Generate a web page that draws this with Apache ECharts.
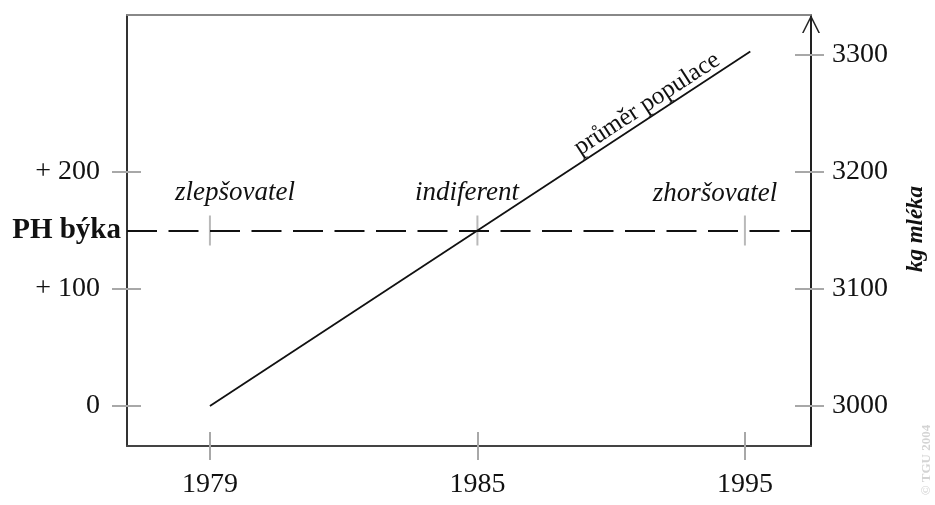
<!DOCTYPE html>
<html>
<head>
<meta charset="utf-8">
<script src="https://cdn.jsdelivr.net/npm/echarts@6/dist/echarts.min.js"></script>
<style>
	html, body { margin: 0; padding: 0; background: #fff; }
	#chart { width: 935px; height: 505px; }
</style>
</head>
<body>
<div id="chart"></div>
<script>
	// roky na ose x (pozice 0, 1, 2)
	const years = ['1979', '1985', '1995'];
	const yearPos = [0, 1, 2];
	// průměr populace, kg mléka
	const populationLine = [[0, 3000], [2.02, 3303]];
	// PH býka
	const bullLevel = 3150;
	const leftTicks = [0, 100, 200];
	const rightTicks = [3000, 3100, 3200, 3300];

	const serif = '"Liberation Serif", "Times New Roman", serif';
	const tickGray = '#a8a8a8';

	const chart = echarts.init(document.getElementById('chart'));

	const option = {
		animation: false,
		grid: { left: 127, right: 124, top: 15, bottom: 59 },
		xAxis: [
			{
				type: 'value', position: 'bottom', min: -0.31, max: 2.247,
				axisLine: { show: true, onZero: false, lineStyle: { color: '#444', width: 2 } },
				axisTick: { show: true, inside: true, length: 14, customValues: yearPos, lineStyle: { color: tickGray, width: 2 } },
				axisLabel: {
					customValues: yearPos, margin: 25,
					formatter: (v) => years[Math.round(v)],
					fontFamily: serif, fontSize: 28, color: '#111'
				},
				splitLine: { show: false }
			},
			{
				type: 'value', position: 'bottom', min: -0.31, max: 2.247,
				axisLine: { show: false, onZero: false },
				axisTick: { show: true, inside: false, length: 14, customValues: yearPos, lineStyle: { color: tickGray, width: 2 } },
				axisLabel: { show: false },
				splitLine: { show: false }
			},
			{
				type: 'value', position: 'top', min: -0.31, max: 2.247,
				axisLine: { show: true, onZero: false, lineStyle: { color: '#888', width: 2 } },
				axisTick: { show: false },
				axisLabel: { show: false },
				splitLine: { show: false }
			}
		],
		yAxis: [
			{
				type: 'value', position: 'left', min: -34.2, max: 334.2,
				axisLine: { show: true, onZero: false, lineStyle: { color: '#333', width: 2 } },
				axisTick: { show: true, inside: true, length: 14, customValues: leftTicks, lineStyle: { color: tickGray, width: 2 } },
				axisLabel: {
					customValues: leftTicks, margin: 27,
					formatter: (v) => v === 0 ? '0' : '+ ' + v,
					fontFamily: serif, fontSize: 28, color: '#111'
				},
				splitLine: { show: false }
			},
			{
				type: 'value', position: 'left', min: -34.2, max: 334.2,
				axisLine: { show: false, onZero: false },
				axisTick: { show: true, inside: false, length: 15, customValues: leftTicks, lineStyle: { color: tickGray, width: 2 } },
				axisLabel: { show: false },
				splitLine: { show: false }
			},
			{
				type: 'value', position: 'right', min: 2965.8, max: 3334.2,
				axisLine: {
					show: true,
					onZero: false,
					symbol: ['none', 'path://M0,10 L5,0 L10,10 L9.1,10 L5,1.8 L0.9,10 Z'],
					symbolSize: [25, 18],
					symbolOffset: [0, -9],
					lineStyle: { color: '#222', width: 2 }
				},
				axisTick: { show: true, inside: true, length: 16, customValues: rightTicks, lineStyle: { color: tickGray, width: 2 } },
				axisLabel: {
					customValues: rightTicks, margin: 21,
					formatter: (v) => String(v),
					fontFamily: serif, fontSize: 28, color: '#111'
				},
				splitLine: { show: false }
			},
			{
				type: 'value', position: 'right', min: 2965.8, max: 3334.2,
				axisLine: { show: false, onZero: false },
				axisTick: { show: true, inside: false, length: 13, customValues: rightTicks, lineStyle: { color: tickGray, width: 2 } },
				axisLabel: { show: false },
				splitLine: { show: false }
			}
		],
		series: [
			{
				name: 'průměr populace',
				type: 'line',
				xAxisIndex: 0,
				yAxisIndex: 2,
				symbol: 'none',
				lineStyle: { color: '#111', width: 1.8 },
				data: populationLine,
				markLine: {
					silent: true,
					symbol: 'none',
					lineStyle: { color: '#111', width: 1.8, type: [30, 11.5] },
					label: {
						show: true, position: 'start', distance: 6,
						formatter: 'PH býka',
						fontFamily: serif, fontSize: 29, fontWeight: 'bold', color: '#111'
					},
					data: [{ yAxis: bullLevel }]
				}
			},
			{
				// značky na čáře PH býka
				type: 'scatter',
				xAxisIndex: 0,
				yAxisIndex: 2,
				symbol: 'rect',
				symbolSize: [2, 30],
				itemStyle: { color: tickGray },
				silent: true,
				z: 1,
				data: yearPos.map((x) => [x, bullLevel])
			}
		],
		graphic: [
			{ type: 'text', x: 235, y: 193, style: { text: 'zlepšovatel', font: 'italic 27px ' + serif, fill: '#111', textAlign: 'center', textVerticalAlign: 'middle' } },
			{ type: 'text', x: 467, y: 193, style: { text: 'indiferent', font: 'italic 27px ' + serif, fill: '#111', textAlign: 'center', textVerticalAlign: 'middle' } },
			{ type: 'text', x: 715, y: 194, style: { text: 'zhoršovatel', font: 'italic 27px ' + serif, fill: '#111', textAlign: 'center', textVerticalAlign: 'middle' } },
			{ type: 'text', x: 647, y: 104, rotation: 33.1 * Math.PI / 180, style: { text: 'průměr populace', font: '25px ' + serif, fill: '#111', textAlign: 'center', textVerticalAlign: 'middle' } },
			{ type: 'text', x: 916, y: 229, rotation: Math.PI / 2, style: { text: 'kg mléka', font: 'italic bold 23px ' + serif, fill: '#111', textAlign: 'center', textVerticalAlign: 'middle' } },
			{ type: 'text', x: 927, y: 460, rotation: Math.PI / 2, style: { text: '© TGU 2004', font: 'bold 13px ' + serif, fill: '#d4d4d4', textAlign: 'center', textVerticalAlign: 'middle' } }
		]
	};

	chart.setOption(option);
</script>
</body>
</html>
